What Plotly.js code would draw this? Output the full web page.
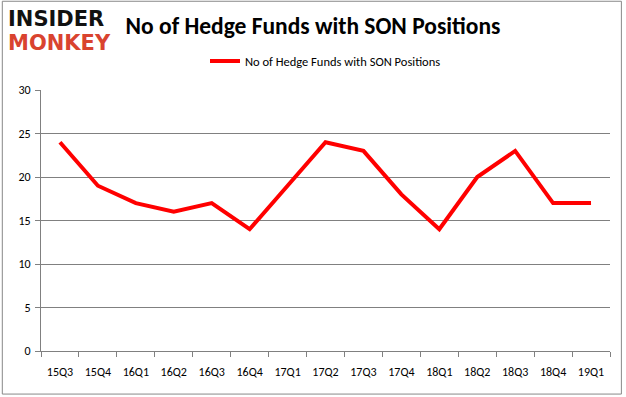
<!DOCTYPE html>
<html><head><meta charset="utf-8">
<script src="https://cdn.plot.ly/plotly-3.0.1.min.js"></script>
<style>html,body{margin:0;padding:0;background:#fff}#c{width:626px;height:397px}</style>
</head><body><div id="c"></div>
<script>
const quarters = ["15Q3","15Q4","16Q1","16Q2","16Q3","16Q4","17Q1","17Q2","17Q3","17Q4","18Q1","18Q2","18Q3","18Q4","19Q1"];
const hedgeFunds = [24,19,17,16,17,14,19,24,23,18,14,20,23,17,17];
const seriesName = "No of Hedge Funds with SON Positions";
const yTicks = [0,5,10,15,20,25,30];

const font = "Calibri, Carlito, 'Open Sans', 'DejaVu Sans', sans-serif";
Plotly.newPlot("c", [{
  x: quarters, y: hedgeFunds, type: "scatter", mode: "lines", name: seriesName,
  line: {color: "#ff0000", width: 4}
}], {
  width: 626, height: 397,
  margin: {l: 41, r: 16, t: 90, b: 46},
  paper_bgcolor: "#fff", plot_bgcolor: "#fff",
  showlegend: true,
  legend: {orientation: "h", x: 0.5, xanchor: "center", y: 1.11, yanchor: "middle",
    font: {family: font, size: 12.5, color: "#000"}},
  title: {text: "<b>No of Hedge Funds with SON Positions</b>", x: 0.5, xanchor: "center",
    y: 0.935, yanchor: "middle", font: {family: font, size: 23.5, color: "#000"}},
  xaxis: {type: "category", range: [-0.5, quarters.length - 0.5], tickson: "boundaries", ticks: "outside", ticklen: 5, tickcolor: "#808080",
    showline: true, linecolor: "#808080", linewidth: 1, showgrid: false, ticklabelstandoff: 10,
    tickfont: {family: font, size: 12, color: "#000"}, fixedrange: true},
  yaxis: {range: [0, 30], tickvals: yTicks, ticks: "outside", ticklen: 5, tickcolor: "#808080",
    showline: true, linecolor: "#808080", gridcolor: "#808080", gridwidth: 1, zeroline: false,
    ticklabelstandoff: 2,
    tickfont: {family: font, size: 12, color: "#000"}, fixedrange: true},
  shapes: [{type: "rect", xref: "paper", yref: "paper", x0: -0.068, x1: 1.02, y0: -0.165, y1: 1.34,
    line: {color: "#888", width: 1}, layer: "below"}],
  annotations: [
    {text: "<b>INSIDER</b>", xref: "paper", yref: "paper", x: -0.062, y: 1.325, xanchor: "left", yanchor: "top",
     showarrow: false, font: {family: "'DejaVu Sans', sans-serif", size: 21, color: "#111"}},
    {text: "<b>MONKEY</b>", xref: "paper", yref: "paper", x: -0.062, y: 1.235, xanchor: "left", yanchor: "top",
     showarrow: false, font: {family: "'DejaVu Sans', sans-serif", size: 21, color: "#d9432f"}}
  ]
}, {displayModeBar: false, staticPlot: true});
</script></body></html>
